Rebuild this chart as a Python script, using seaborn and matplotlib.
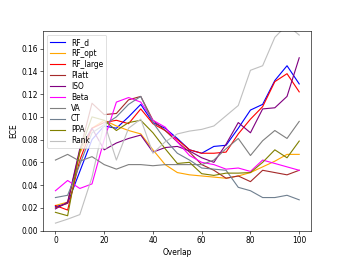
import matplotlib
matplotlib.use("Agg")
import matplotlib.pyplot as plt
from matplotlib.lines import Line2D
import seaborn as sns
import pandas as pd

# overlap levels (x axis)
overlap = [0, 5, 10, 15, 20, 25, 30, 35, 40, 45, 50,
           55, 60, 65, 70, 75, 80, 85, 90, 95, 100]

# ECE per method
rf_d = [0.021, 0.024, 0.052, 0.080, 0.092, 0.090, 0.100, 0.111, 0.095, 0.090, 0.081,
        0.071, 0.068, 0.074, 0.075, 0.090, 0.106, 0.111, 0.132, 0.145, 0.129]
rf_opt = [0.022, 0.025, 0.068, 0.090, 0.097, 0.092, 0.088, 0.085, 0.071, 0.058, 0.051,
          0.049, 0.048, 0.047, 0.046, 0.048, 0.051, 0.056, 0.061, 0.067, 0.067]
rf_large = [0.022, 0.018, 0.062, 0.090, 0.095, 0.097, 0.094, 0.107, 0.094, 0.088, 0.080,
            0.071, 0.068, 0.068, 0.069, 0.085, 0.098, 0.109, 0.131, 0.138, 0.122]
platt = [0.020, 0.024, 0.070, 0.112, 0.102, 0.103, 0.115, 0.118, 0.097, 0.088, 0.078,
         0.069, 0.058, 0.053, 0.046, 0.048, 0.043, 0.053, 0.051, 0.049, 0.053]
iso = [0.019, 0.025, 0.072, 0.090, 0.071, 0.077, 0.081, 0.084, 0.069, 0.073, 0.074,
       0.070, 0.064, 0.060, 0.076, 0.095, 0.086, 0.107, 0.108, 0.118, 0.152]
beta = [0.035, 0.044, 0.037, 0.041, 0.080, 0.113, 0.117, 0.113, 0.097, 0.091, 0.078,
        0.066, 0.060, 0.058, 0.054, 0.055, 0.052, 0.062, 0.059, 0.056, 0.053]
va = [0.062, 0.067, 0.061, 0.065, 0.058, 0.054, 0.058, 0.058, 0.057, 0.058, 0.058,
      0.058, 0.058, 0.062, 0.072, 0.081, 0.066, 0.079, 0.088, 0.081, 0.096]
ct = [0.029, 0.031, 0.058, 0.086, 0.093, 0.100, 0.111, 0.118, 0.095, 0.080, 0.068,
      0.062, 0.055, 0.054, 0.053, 0.038, 0.035, 0.029, 0.029, 0.031, 0.027]
ppa = [0.016, 0.013, 0.070, 0.100, 0.097, 0.088, 0.095, 0.097, 0.086, 0.072, 0.059,
       0.060, 0.050, 0.0485, 0.0505, 0.0505, 0.051, 0.060, 0.071, 0.064, 0.0787]
rank = [0.0065, 0.010, 0.014, 0.047, 0.095, 0.062, 0.090, 0.098, 0.068, 0.078, 0.085,
        0.0875, 0.089, 0.092, 0.101, 0.110, 0.141, 0.145, 0.170, 0.181, 0.172]

methods = ["RF_d", "RF_opt", "RF_large", "Platt", "ISO", "Beta", "VA", "CT", "PPA", "Rank"]
values = [rf_d, rf_opt, rf_large, platt, iso, beta, va, ct, ppa, rank]
colors = ["blue", "orange", "red", "brown", "purple", "magenta",
          "gray", "slategray", "olive", "silver"]

# long format table for seaborn
df = pd.concat(
    [pd.DataFrame({"Overlap": overlap, "ECE": v, "method": m})
     for m, v in zip(methods, values)],
    ignore_index=True,
)

dpi = 54
fig, ax = plt.subplots(figsize=(346 / dpi, 259 / dpi), dpi=dpi)

sns.lineplot(data=df, x="Overlap", y="ECE", hue="method",
             hue_order=methods, palette=colors, legend=False, ax=ax)

ax.set_ylim(0, 0.1755)
ax.set_xlabel("Overlap")
ax.set_ylabel("ECE")

# legend built explicitly so each entry keeps its own colour
handles = [Line2D([], [], color=c, lw=1.5) for c in colors]
ax.legend(handles, methods, loc="upper left", labelspacing=0.26)

plt.savefig("out.png", dpi=dpi)
